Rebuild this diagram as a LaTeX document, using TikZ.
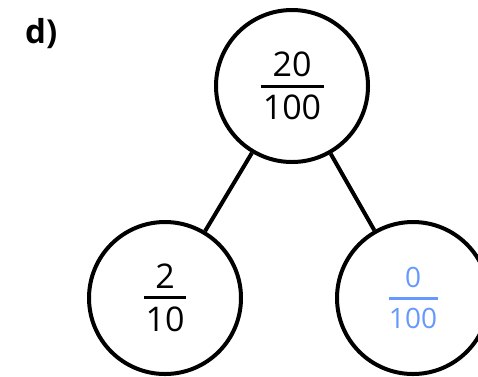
\documentclass[tikz,border=0pt]{standalone}
\usepackage{fontspec}
\setmainfont{Open Sans}
\definecolor{hand}{RGB}{102,153,255}
% #1 numerator, #2 denominator, #3 bar width, #4 bar thickness, #5 gap
\newcommand\fracbox[5]{\vbox{\offinterlineskip\halign{\hfil##\hfil\cr#1\cr\noalign{\kern#5}\vrule width #3 height #4 depth 0pt\cr\noalign{\kern#5}#2\cr}}}
\begin{document}
\begin{tikzpicture}[x=1pt,y=-1pt,
  bubble/.style={circle,draw,line width=4pt,minimum size=152pt,inner sep=0pt},
  link/.style={line width=4pt},
  big/.style={font=\fontsize{34}{40}\selectfont}]
\useasboundingbox (0,0) rectangle (478,376);
\node[font=\bfseries\fontsize{33}{38}\selectfont, anchor=base west, inner sep=0pt] (lab) at (25,43) {d)};
\node[bubble,big] (top) at (292,86) {\fracbox{20}{100}{63pt}{3pt}{7.4pt}};
\node[bubble,big] (left) at (165,298) {\fracbox{2}{10}{42pt}{3pt}{7.4pt}};
\node[bubble,font=\fontsize{28}{34}\selectfont,text=hand] (right) at (413,298) {\fracbox{0}{100}{49pt}{3pt}{9pt}};
\draw[link] (top) -- (left);
\draw[link] (top) -- (right);
\end{tikzpicture}
\end{document}
